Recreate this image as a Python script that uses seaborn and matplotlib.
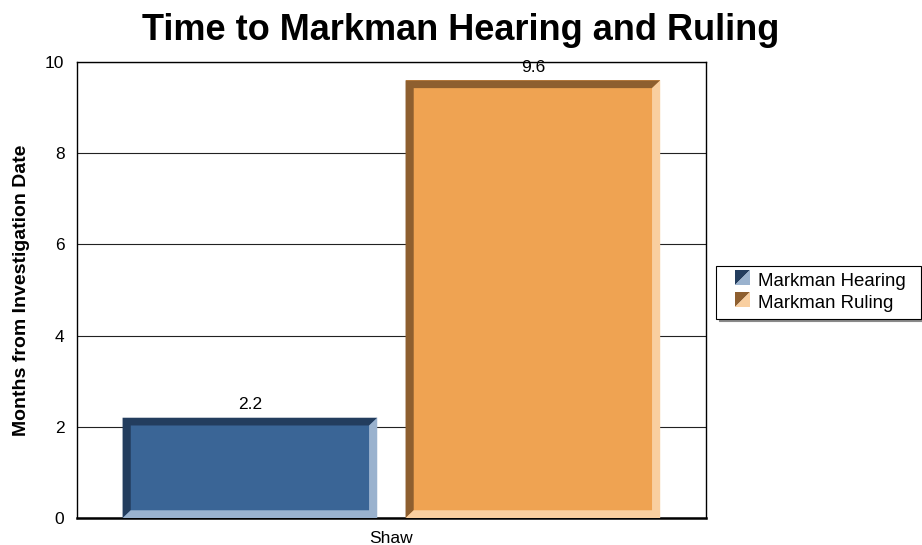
import matplotlib
matplotlib.use("Agg")
import matplotlib.pyplot as plt
import seaborn as sns
import pandas as pd
from matplotlib.patches import Polygon, Rectangle
from matplotlib.legend_handler import HandlerBase

# data
categories = ["Shaw"]
series = ["Markman Hearing", "Markman Ruling"]
hearing = [2.2]
ruling = [9.6]

# colours: face, dark bevel (left/top), light bevel (right/bottom)
face = ["#3A6596", "#EFA352"]
dark = ["#233D5E", "#8E5F2F"]
light = ["#9AB2CE", "#F9CFA0"]

d = pd.DataFrame({
    "cat": categories * 2,
    "series": [series[0]] * len(hearing) + [series[1]] * len(ruling),
    "value": hearing + ruling,
})

sns.set_style("white")
plt.rcParams["font.family"] = ["Liberation Sans", "DejaVu Sans"]
plt.rcParams["text.color"] = "black"
plt.rcParams["axes.labelcolor"] = "black"
plt.rcParams["xtick.color"] = "black"
plt.rcParams["ytick.color"] = "black"

fig = plt.figure(figsize=(9.22, 5.45), dpi=100)
ax = fig.add_axes([0.0835, 0.0495, 0.682, 0.8365])

sns.barplot(data=d, x="cat", y="value", hue="series", palette=face,
            width=0.9, gap=0.1, ax=ax, legend=False, linewidth=0, saturation=1)

ax.set_xlim(-0.5, 0.5)
ax.set_ylim(0, 10)
ax.set_yticks([0, 2, 4, 6, 8, 10])
ax.yaxis.grid(True, color="#222222", linewidth=0.8)
ax.set_axisbelow(True)
for s in ["left", "top", "right"]:
    ax.spines[s].set_color("black")
    ax.spines[s].set_linewidth(1.0)
ax.spines["bottom"].set_color("black")
ax.spines["bottom"].set_linewidth(1.8)
ax.tick_params(axis="both", length=0, labelsize=12.5)
ax.tick_params(axis="y", pad=9)
ax.tick_params(axis="x", pad=9)
ax.set_xlabel("")
ax.set_ylabel("Months from Investigation Date", fontsize=14, fontweight="bold", labelpad=11)

# bevel each bar using the patch geometry from seaborn
bev_x = 0.013
bev_y = 0.17
for i, p in enumerate(ax.patches):
    x0, y0 = p.get_x(), p.get_y()
    w, h = p.get_width(), p.get_height()
    x1, y1 = x0 + w, y0 + h
    # left + top dark
    ax.add_patch(Polygon([(x0, y0), (x0, y1), (x1, y1), (x1 - bev_x, y1 - bev_y),
                          (x0 + bev_x, y1 - bev_y), (x0 + bev_x, y0 + bev_y)],
                         closed=True, facecolor=dark[i], edgecolor="none", zorder=3))
    # right + bottom light
    ax.add_patch(Polygon([(x0, y0), (x1, y0), (x1, y1), (x1 - bev_x, y1 - bev_y),
                          (x1 - bev_x, y0 + bev_y), (x0 + bev_x, y0 + bev_y)],
                         closed=True, facecolor=light[i], edgecolor="none", zorder=3))
    ax.text(x0 + w / 2, y1 + 0.12, f"{h:.1f}", ha="center", va="bottom", fontsize=12.5)

fig.suptitle("Time to Markman Hearing and Ruling", x=0.5, y=0.977,
             fontsize=26, fontweight="bold", va="top")


class SplitHandler(HandlerBase):
    # square split on the diagonal: dark upper-left, light lower-right
    def __init__(self, c_dark, c_light):
        super().__init__()
        self.c_dark = c_dark
        self.c_light = c_light

    def create_artists(self, legend, orig, xd, yd, width, height, fontsize, trans):
        s = height
        x0 = xd + width - s
        y0 = yd
        a = Polygon([(x0, y0), (x0, y0 + s), (x0 + s, y0 + s)], closed=True,
                    facecolor=self.c_dark, edgecolor="none", transform=trans)
        b = Polygon([(x0, y0), (x0 + s, y0), (x0 + s, y0 + s)], closed=True,
                    facecolor=self.c_light, edgecolor="none", transform=trans)
        return [a, b]


h1 = Rectangle((0, 0), 1, 1)
h2 = Rectangle((0, 0), 1, 1)
leg = fig.legend([h1, h2], series,
                 handler_map={h1: SplitHandler(dark[0], light[0]),
                              h2: SplitHandler(dark[1], light[1])},
                 loc="upper left", bbox_to_anchor=(0.7766, 0.413, 0.2223, 0.099),
                 mode="expand",
                 frameon=True, fancybox=False, shadow={"color": "#8a8a8a", "alpha": 1},
                 fontsize=13.4, handlelength=1.48, handleheight=0.86, handletextpad=0.43,
                 borderpad=0.35, labelspacing=0.2, borderaxespad=0)
leg.get_frame().set_edgecolor("black")
leg.get_frame().set_linewidth(0.8)

fig.savefig("out.png", dpi=100)
